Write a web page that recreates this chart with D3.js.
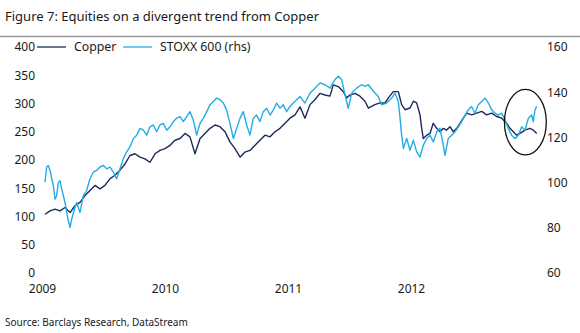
<!DOCTYPE html>
<html>
<head>
<meta charset="utf-8">
<script src="https://cdn.jsdelivr.net/npm/d3@7"></script>
<style>
  body { margin: 0; background: #fff; }
  svg text { font-family: "Noto Sans", sans-serif; fill: #1a1a1a; }
</style>
</head>
<body>
<div id="chart"></div>
<script>
// Copper (lhs), readings, decimal year -> index level
var copperYears = [2009.024, 2009.065, 2009.106, 2009.146, 2009.187, 2009.228, 2009.268, 2009.309, 2009.350, 2009.390,
  2009.431, 2009.472, 2009.512, 2009.553, 2009.593, 2009.634, 2009.675, 2009.715, 2009.756, 2009.797,
  2009.837, 2009.878, 2009.919, 2009.959, 2010.000, 2010.041, 2010.081, 2010.122, 2010.163, 2010.203,
  2010.244, 2010.285, 2010.325, 2010.366, 2010.407, 2010.447, 2010.488, 2010.528, 2010.569, 2010.610,
  2010.650, 2010.691, 2010.732, 2010.772, 2010.813, 2010.854, 2010.894, 2010.935, 2010.976, 2011.016,
  2011.057, 2011.098, 2011.138, 2011.179, 2011.220, 2011.260, 2011.301, 2011.341, 2011.368, 2011.409,
  2011.450, 2011.477, 2011.504, 2011.545, 2011.585, 2011.626, 2011.653, 2011.680, 2011.707, 2011.748,
  2011.789, 2011.816, 2011.856, 2011.897, 2011.924, 2011.951, 2011.992, 2012.019, 2012.046, 2012.073,
  2012.087, 2012.100, 2012.128, 2012.154, 2012.181, 2012.209, 2012.236, 2012.263, 2012.290, 2012.317,
  2012.344, 2012.372, 2012.398, 2012.425, 2012.453, 2012.493, 2012.534, 2012.575, 2012.615, 2012.656,
  2012.697, 2012.737, 2012.778, 2012.805, 2012.832, 2012.859, 2012.886, 2012.927, 2012.967, 2012.994,
  2013.022];
var copperValues = [104, 110, 113, 110, 116, 107, 119, 125, 137, 146,
  155, 149, 155, 167, 173, 182, 193, 208, 211, 205,
  202, 196, 211, 217, 220, 226, 235, 238, 247, 241,
  211, 238, 247, 256, 262, 259, 250, 232, 220, 205,
  214, 217, 226, 235, 244, 241, 250, 256, 265, 274,
  280, 294, 274, 298, 307, 318, 315, 313, 333, 330,
  321, 310, 315, 318, 313, 304, 292, 295, 298, 301,
  301, 310, 321, 321, 298, 289, 292, 304, 301, 280,
  256, 238, 244, 247, 265, 256, 250, 256, 253, 259,
  250, 256, 265, 274, 283, 280, 283, 286, 280, 283,
  277, 274, 265, 256, 250, 244, 247, 253, 256, 253,
  247];

// STOXX 600 (rhs)
var stoxxYears = [2009.024, 2009.038, 2009.051, 2009.065, 2009.092, 2009.106, 2009.119, 2009.133, 2009.146, 2009.160,
  2009.187, 2009.201, 2009.214, 2009.228, 2009.241, 2009.268, 2009.282, 2009.309, 2009.336, 2009.363,
  2009.390, 2009.417, 2009.444, 2009.472, 2009.499, 2009.526, 2009.553, 2009.580, 2009.607, 2009.634,
  2009.661, 2009.688, 2009.715, 2009.743, 2009.770, 2009.797, 2009.824, 2009.851, 2009.878, 2009.905,
  2009.932, 2009.959, 2009.986, 2010.014, 2010.041, 2010.068, 2010.095, 2010.122, 2010.149, 2010.176,
  2010.203, 2010.230, 2010.257, 2010.285, 2010.312, 2010.339, 2010.366, 2010.393, 2010.420, 2010.447,
  2010.474, 2010.501, 2010.528, 2010.556, 2010.583, 2010.610, 2010.637, 2010.664, 2010.691, 2010.718,
  2010.745, 2010.772, 2010.799, 2010.826, 2010.854, 2010.881, 2010.908, 2010.935, 2010.962, 2010.989,
  2011.016, 2011.043, 2011.070, 2011.098, 2011.138, 2011.179, 2011.220, 2011.260, 2011.301, 2011.341,
  2011.382, 2011.409, 2011.436, 2011.463, 2011.490, 2011.518, 2011.558, 2011.599, 2011.626, 2011.653,
  2011.694, 2011.734, 2011.761, 2011.802, 2011.843, 2011.870, 2011.897, 2011.911, 2011.924, 2011.938,
  2011.965, 2011.992, 2012.019, 2012.046, 2012.073, 2012.100, 2012.128, 2012.154, 2012.182, 2012.209,
  2012.236, 2012.263, 2012.276, 2012.303, 2012.331, 2012.358, 2012.385, 2012.412, 2012.439, 2012.466,
  2012.493, 2012.520, 2012.547, 2012.575, 2012.602, 2012.629, 2012.656, 2012.683, 2012.710, 2012.737,
  2012.764, 2012.791, 2012.818, 2012.846, 2012.873, 2012.900, 2012.927, 2012.954, 2012.981, 2012.994,
  2013.008, 2013.022];
var stoxxValues = [100.2, 106.9, 107.6, 105.4, 98.7, 92.7, 94.2, 100, 100.9, 97.2,
  91.2, 86.8, 83.1, 80.1, 83.8, 89, 91.2, 86.8, 94.2, 96.5,
  101.7, 104.6, 105.4, 106.9, 107.6, 106.1, 106.9, 104.6, 101.7, 106.1,
  110.6, 113.6, 115.8, 119.5, 121, 124, 123.2, 121, 124.7, 125.5,
  122.5, 125.5, 126.2, 123.2, 124.7, 127, 128.5, 129.2, 127, 129.2,
  131.4, 127.7, 121, 126.2, 128.5, 131.4, 134.4, 135.9, 137.4, 136.7,
  135.2, 132.2, 126.2, 119.5, 124, 128.5, 131.4, 125.5, 121, 128.5,
  129.9, 127, 131.4, 132.9, 129.9, 132.2, 135.2, 132.9, 134.4, 131.4,
  133.7, 135.2, 136.7, 138.1, 135.2, 139.6, 141.8, 144.1, 143.3, 141.8,
  145.6, 147.1, 145.6, 138.9, 132.9, 139.6, 141.8, 143.3, 142.6, 143.3,
  140.4, 138.1, 134.4, 135.2, 137.4, 139.6, 135.9, 128.5, 121, 115.1,
  119.5, 114.3, 118.8, 113.6, 111.3, 116.5, 119.5, 121, 118, 122.5,
  124, 116.5, 112, 119.5, 121, 122.5, 124.7, 127, 129.9, 132.2,
  133.7, 130.7, 134.4, 135.9, 137.4, 135.2, 132.2, 130.7, 129.9, 130.7,
  127.7, 124, 121, 119.5, 121, 124.7, 123.2, 128.5, 129.9, 127,
  132.2, 133.7];

var yearLabels = [2009, 2010, 2011, 2012];
var leftTicks = [0, 50, 100, 150, 200, 250, 300, 350, 400];
var rightTicks = [60, 80, 100, 120, 140, 160];
var seriesNames = ["Copper", "STOXX 600 (rhs)"];
var seriesColors = ["#1b2a5a", "#22ade6"];
// ellipse drawn round the latest divergence
var highlight = { year: 2012.93, value: 267, yearSpan: 0.17, valueSpan: 58 };

var width = 580, height = 333;
var svg = d3.select("#chart").append("svg")
    .attr("width", width)
    .attr("height", height);

var x = d3.scaleLinear().domain([2009, 2013]).range([42, 534]);
var yL = d3.scaleLinear().domain([0, 400]).range([273, 47]);
var yR = d3.scaleLinear().domain([60, 160]).range([273, 47]);

// title and rule
svg.append("text")
    .attr("x", 5).attr("y", 21)
    .style("font-size", "13px")
    .text("Figure 7: Equities on a divergent trend from Copper");

svg.append("line")
    .attr("x1", 0).attr("x2", width)
    .attr("y1", 36.5).attr("y2", 36.5)
    .style("stroke", "#9a9a9a")
    .style("stroke-width", 1.5);

// axes, labels only
var leftAxis = svg.append("g")
    .attr("transform", "translate(35,0)")
    .call(d3.axisLeft(yL).tickValues(leftTicks).tickSize(0).tickPadding(0));
var rightAxis = svg.append("g")
    .attr("transform", "translate(547,0)")
    .call(d3.axisRight(yR).tickValues(rightTicks).tickSize(0).tickPadding(0));
var bottomAxis = svg.append("g")
    .attr("transform", "translate(0,284)")
    .call(d3.axisBottom(x).tickValues(yearLabels).tickFormat(d3.format("d")).tickSize(0).tickPadding(0));

[leftAxis, rightAxis, bottomAxis].forEach(function(g) {
    g.select(".domain").remove();
    g.selectAll("text")
        .style("font-size", "12px")
        .style("font-family", "'Noto Sans', sans-serif")
        .attr("fill", "#1a1a1a");
});

// lines
var copper = copperYears.map((d, i) => ({ t: d, v: copperValues[i] }));
var stoxx = stoxxYears.map((d, i) => ({ t: d, v: stoxxValues[i] }));

svg.append("path")
    .datum(copper)
    .attr("fill", "none")
    .attr("stroke", seriesColors[0])
    .attr("stroke-width", 1.4)
    .attr("stroke-linejoin", "round")
    .attr("d", d3.line().x(d => x(d.t)).y(d => yL(d.v)));

svg.append("path")
    .datum(stoxx)
    .attr("fill", "none")
    .attr("stroke", seriesColors[1])
    .attr("stroke-width", 1.4)
    .attr("stroke-linejoin", "round")
    .attr("d", d3.line().x(d => x(d.t)).y(d => yR(d.v)));

// legend next to the top left label
var legend = svg.append("g").attr("transform", "translate(37,47)");
var legX = [0, 86];
seriesNames.forEach(function(name, i) {
    var g = legend.append("g").attr("transform", "translate(" + legX[i] + ",0)");
    g.append("line")
        .attr("x1", 0).attr("x2", 29)
        .attr("y1", 0).attr("y2", 0)
        .style("stroke", seriesColors[i])
        .style("stroke-width", 1.3);
    g.append("text")
        .attr("x", 37).attr("dy", "0.35em")
        .style("font-size", "12.3px")
        .text(name);
});

// highlight ellipse
svg.append("ellipse")
    .attr("cx", x(highlight.year))
    .attr("cy", yL(highlight.value))
    .attr("rx", x(highlight.year + highlight.yearSpan) - x(highlight.year))
    .attr("ry", yL(highlight.value) - yL(highlight.value + highlight.valueSpan))
    .style("fill", "none")
    .style("stroke", "#111")
    .style("stroke-width", 1.3);

// source
svg.append("text")
    .attr("x", 5).attr("y", 326)
    .style("font-size", "10px")
    .text("Source: Barclays Research, DataStream");
</script>
</body>
</html>
